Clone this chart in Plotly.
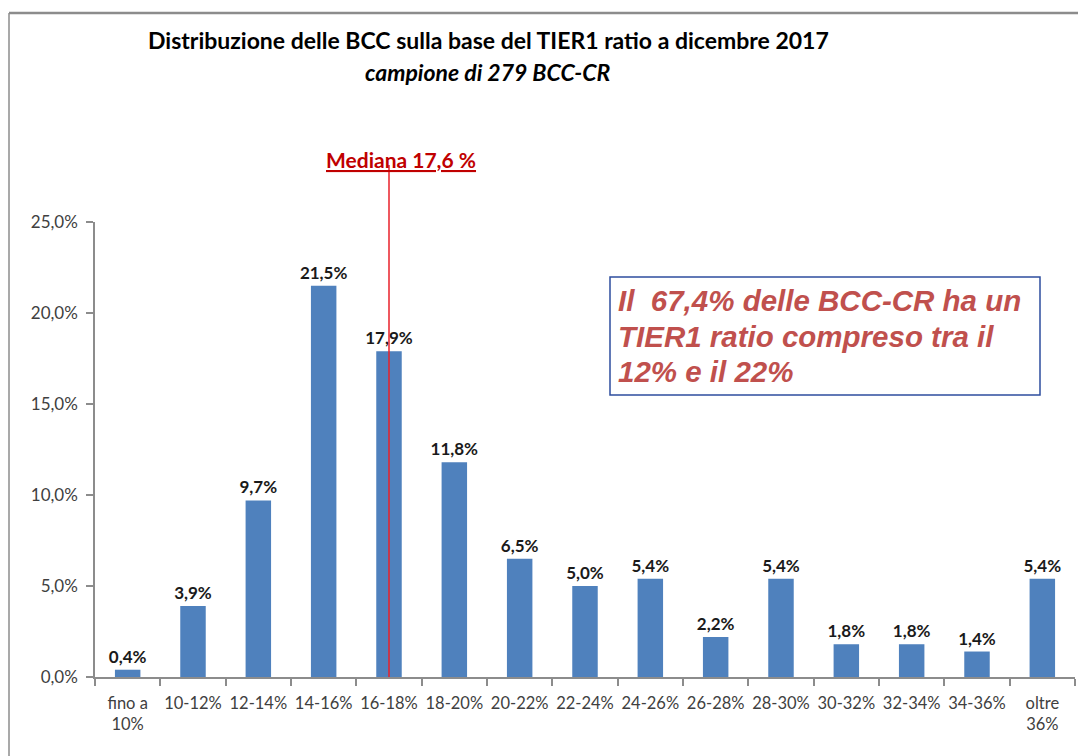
import plotly.graph_objects as go

categories = ['fino a<br>10%', '10-12%', '12-14%', '14-16%', '16-18%', '18-20%', '20-22%',
              '22-24%', '24-26%', '26-28%', '28-30%', '30-32%', '32-34%', '34-36%', 'oltre<br>36%']
shares = [0.004, 0.039, 0.097, 0.215, 0.179, 0.118, 0.065, 0.050, 0.054, 0.022, 0.054,
          0.018, 0.018, 0.014, 0.054]
y_ticks = [0.0, 0.05, 0.10, 0.15, 0.20, 0.25]
median_category = '16-18%'

title_text = 'Distribuzione delle BCC sulla base del TIER1 ratio a dicembre 2017'
subtitle_text = 'campione di 279 BCC-CR'
median_text = 'Mediana 17,6 %'
box_lines = ['Il  67,4% delle BCC-CR ha un', 'TIER1 ratio compreso tra il', '12% e il 22%']

# page has an 8px body margin, so screen coords are figure coords + 8
OFF = 8
W, H = 1086, 756
# plot area in screen pixels
L, R, T, B = 95, 1075, 222, 677


def px(x):
    return (x - L) / (R - L)


def py(y):
    return (B - y) / (B - T)


fig = go.Figure()

fig.add_trace(go.Bar(
    x=categories,
    y=shares,
    marker=dict(color='#4F81BD', line=dict(width=0)),
    texttemplate='<b>%{y:.1%}</b>',
    textposition='outside',
    constraintext='none',
    textfont=dict(family='Lato, sans-serif', size=17, color='#1a1a1a'),
    cliponaxis=False,
    hoverinfo='skip'
))

shapes = [
    # median line
    dict(type='line', xref='x', yref='paper', x0=categories.index(median_category),
         x1=categories.index(median_category), y0=0, y1=py(165),
         line=dict(color='#E8202A', width=1.5), layer='above'),
    # outer chart border (top and left, as in the cropped screenshot)
    dict(type='line', xref='paper', yref='paper', x0=px(9), x1=px(1100), y0=py(13), y1=py(13),
         line=dict(color='#8c8c8c', width=2.5)),
    dict(type='line', xref='paper', yref='paper', x0=px(9), x1=px(9), y0=py(13), y1=py(770),
         line=dict(color='#8c8c8c', width=1.5)),
    # text box
    dict(type='rect', xref='paper', yref='paper', x0=px(610), x1=px(1040), y0=py(395), y1=py(277),
         line=dict(color='#2E4E9E', width=1.5), fillcolor='white', layer='below'),
]

annotations = [
    dict(text='<b>' + title_text + '</b>', xref='paper', yref='paper', x=px(488), y=py(40),
         xanchor='center', yanchor='middle', showarrow=False,
         font=dict(family='Lato, sans-serif', size=23, color='#000000')),
    dict(text='<b><i>' + subtitle_text + '</i></b>', xref='paper', yref='paper', x=px(488), y=py(72),
         xanchor='center', yanchor='middle', showarrow=False,
         font=dict(family='Lato, sans-serif', size=23, color='#000000')),
    dict(text='<b><u>' + median_text + '</u></b>', xref='paper', yref='paper', x=px(401), y=py(159),
         xanchor='center', yanchor='middle', showarrow=False,
         font=dict(family='Lato, sans-serif', size=21, color='#C00000')),
]
for line, yc in zip(box_lines, [300, 336, 371]):
    annotations.append(dict(
        text='<b><i>' + line + '</i></b>', xref='paper', yref='paper', x=px(616), y=py(yc),
        xanchor='left', yanchor='middle', align='left', showarrow=False,
        font=dict(family='Liberation Sans, Arial, sans-serif', size=29.5, color='#C0504D')))

fig.update_layout(
    width=W, height=H,
    margin=dict(l=L - OFF, r=W - (R - OFF), t=T - OFF, b=H - (B - OFF), autoexpand=False),
    paper_bgcolor='white',
    plot_bgcolor='white',
    separators=',.',
    bargap=0.61,
    showlegend=False,
    shapes=shapes,
    annotations=annotations,
    font=dict(family='Lato, sans-serif', size=17, color='#404040'),
)

fig.update_xaxes(
    type='category',
    showline=True, linecolor='#8c8c8c', linewidth=1.5,
    ticks='outside', tickson='boundaries', ticklen=7, tickcolor='#8c8c8c', tickwidth=1.5,
    showgrid=False, zeroline=False, tickangle=0, ticklabelstandoff=10,
    tickfont=dict(family='Lato, sans-serif', size=16.5, color='#404040'),
)
fig.update_yaxes(
    range=[0, 0.25], tickvals=y_ticks, tickformat='.1%',
    showline=True, linecolor='#8c8c8c', linewidth=1.5,
    ticks='outside', ticklen=7, tickcolor='#8c8c8c', tickwidth=1.5,
    showgrid=False, zeroline=False, ticklabelstandoff=5,
    tickfont=dict(family='Lato, sans-serif', size=17, color='#404040'),
)

fig.write_html('out.html')
